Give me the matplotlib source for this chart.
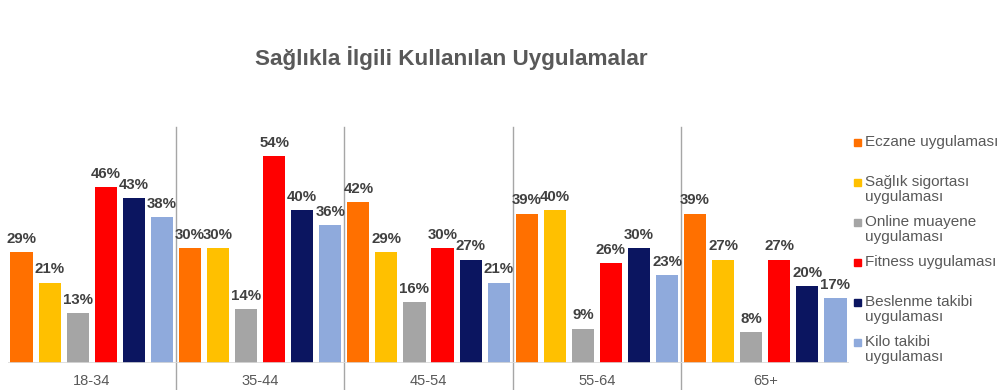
import matplotlib
matplotlib.use("Agg")
import matplotlib.pyplot as plt
import numpy as np
from matplotlib.patches import Rectangle
import matplotlib.transforms as mtransforms

plt.rcParams['font.family'] = ['Liberation Sans', 'DejaVu Sans']

title = "Sağlıkla İlgili Kullanılan Uygulamalar"
groups = ["18-34", "35-44", "45-54", "55-64", "65+"]
series = ["Eczane uygulaması", "Sağlık sigortası\nuygulaması", "Online muayene\nuygulaması",
          "Fitness uygulaması", "Beslenme takibi\nuygulaması", "Kilo takibi\nuygulaması"]
eczane = [29, 30, 42, 39, 39]
saglik = [21, 30, 29, 40, 27]
online = [13, 14, 16, 9, 8]
fitness = [46, 54, 30, 26, 27]
beslenme = [43, 40, 27, 30, 20]
kilo = [38, 36, 21, 23, 17]
values = [eczane, saglik, online, fitness, beslenme, kilo]
colors = ["#FF7000", "#FFC000", "#A5A5A5", "#FF0000", "#0B1560", "#8FAADC"]

fig = plt.figure(figsize=(9.98, 3.9), dpi=100)
ax = fig.add_axes([7.5/998, 1-363/390, (849.5-7.5)/998, (363-127)/390])

n = len(series)
slot = 1.0 / n
bw = slot * 0.79
x = np.arange(len(groups))
for i, (vals, c) in enumerate(zip(values, colors)):
    pos = x - 0.5 + slot * (i + 0.5)
    ax.bar(pos, vals, width=bw, color=c, zorder=2)
    for p, v in zip(pos, vals):
        ax.text(p, v + 1.6, f"{v}%", ha='center', va='bottom', fontsize=10.8,
                fontweight='bold', color='#404040')

ax.set_xlim(-0.5, len(groups) - 0.5)
ax.set_ylim(0, 61.6)
for s in ax.spines.values():
    s.set_visible(False)
ax.axhline(0, color='#D9D9D9', lw=1.2, zorder=3)
ax.set_yticks([])
ax.set_xticks(x)
ax.set_xticklabels(groups, fontsize=10.5, color='#595959')
ax.tick_params(axis='x', length=0, pad=8)

trans = mtransforms.blended_transform_factory(ax.transData, ax.transAxes)
for b in np.arange(0.5, len(groups) - 1, 1.0):
    ax.plot([b, b], [1.0, -0.12], transform=trans, color='#A6A6A6', lw=1, clip_on=False)

fig.text(451/998, 1 - 58/390, title, ha='center', va='center', fontsize=16.2,
         fontweight='bold', color='#595959')

# legend
for i, (name, c) in enumerate(zip(series, colors)):
    y = 142 + 40 * i
    fig.patches.append(Rectangle((854/998, 1 - (y + 4)/390), 7/998, 7/390,
                                 transform=fig.transFigure, color=c))
    fig.text(865/998, 1 - (y - 7)/390, name, ha='left', va='top', fontsize=11,
             color='#595959', linespacing=1.12)

fig.savefig("out.png", dpi=100)
